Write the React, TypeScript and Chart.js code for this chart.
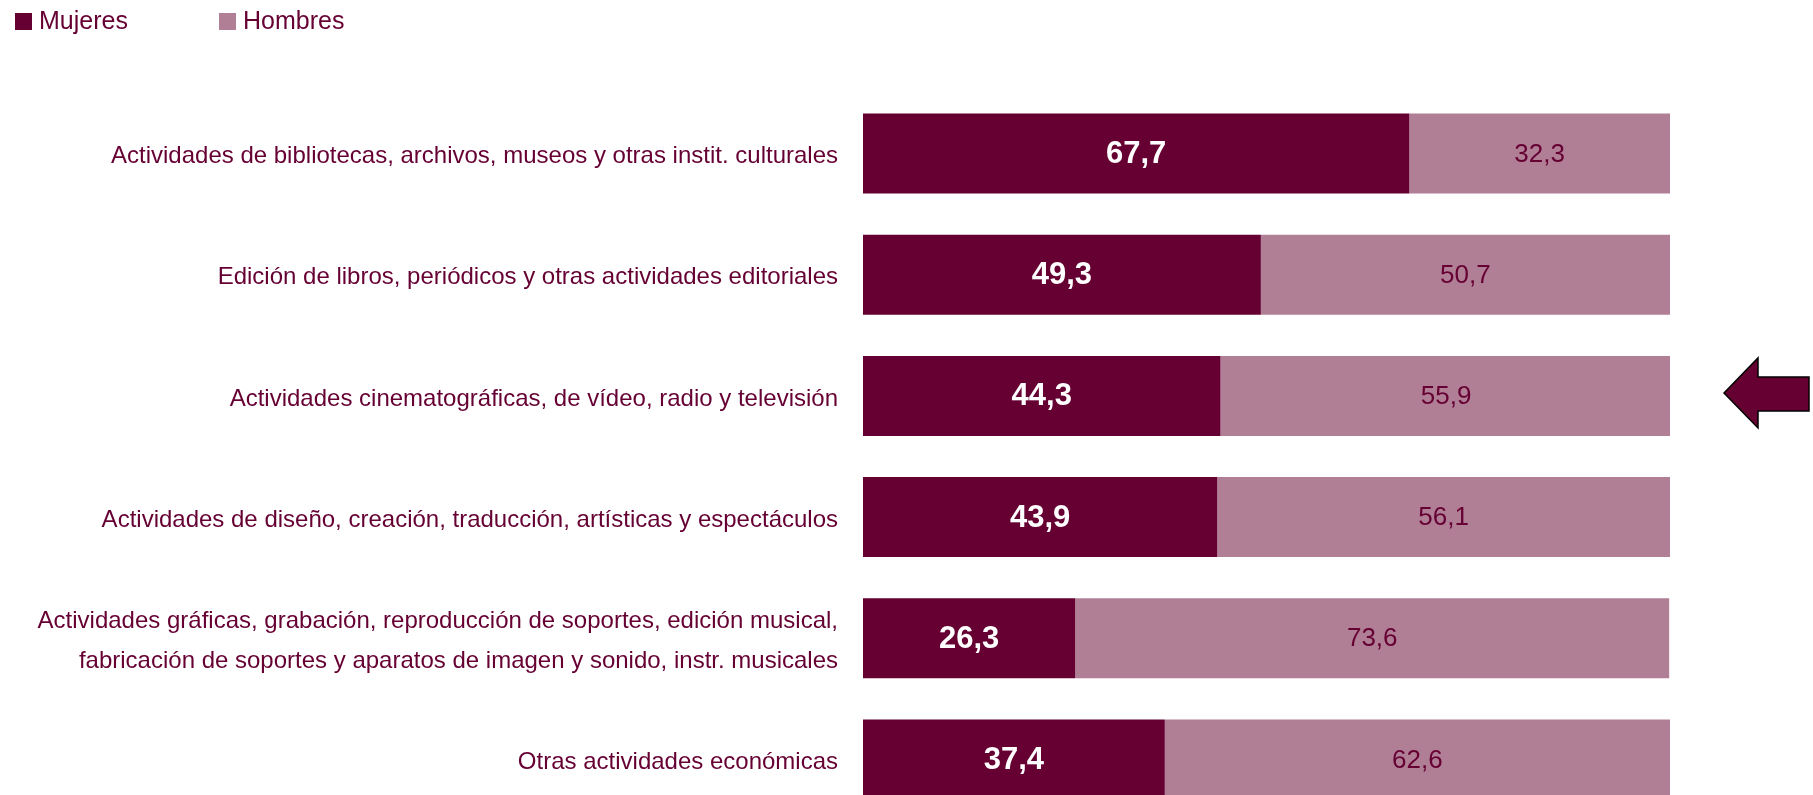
import React, { useEffect, useRef } from "react";
import { Chart, registerables } from "chart.js";

Chart.register(...registerables);

const categories: (string | string[])[] = [
  "Actividades de bibliotecas, archivos, museos y otras instit. culturales",
  "Edición de libros, periódicos y otras actividades editoriales",
  "Actividades cinematográficas, de vídeo, radio y televisión",
  "Actividades de diseño, creación, traducción, artísticas y espectáculos",
  [
    "Actividades gráficas, grabación, reproducción de soportes, edición musical,",
    "fabricación de soportes y aparatos de imagen y sonido, instr. musicales",
  ],
  "Otras actividades económicas",
];
const mujeres = [67.7, 49.3, 44.3, 43.9, 26.3, 37.4];
const hombres = [32.3, 50.7, 55.9, 56.1, 73.6, 62.6];
const seriesNames = ["Mujeres", "Hombres"];
const highlightedIndex = 2;

const DARK = "#660033";
const LIGHT = "#B07F96";
const FONT = "'Liberation Sans', Arial, sans-serif";

const fmt = (v: number) => v.toFixed(1).replace(".", ",");

const labelsPlugin = {
  id: "barLabels",
  afterDatasetsDraw(chart: any) {
    const ctx = chart.ctx;
    ctx.save();
    ctx.textAlign = "center";
    ctx.textBaseline = "middle";
    chart.data.datasets.forEach((ds: any, di: number) => {
      const meta = chart.getDatasetMeta(di);
      meta.data.forEach((bar: any, i: number) => {
        const cx = (bar.x + bar.base) / 2;
        if (di === 0) {
          ctx.fillStyle = "#ffffff";
          ctx.font = `bold 31px ${FONT}`;
        } else {
          ctx.fillStyle = DARK;
          ctx.font = `26px ${FONT}`;
        }
        ctx.fillText(fmt(ds.data[i]), cx, bar.y + 1);
      });
    });
    ctx.restore();
  },
};

const legendArrowPlugin = {
  id: "legendArrow",
  afterDraw(chart: any) {
    const ctx = chart.ctx;
    ctx.save();
    const items = [
      { x: 15, color: DARK, text: seriesNames[0] },
      { x: 219, color: LIGHT, text: seriesNames[1] },
    ];
    ctx.font = `25px ${FONT}`;
    ctx.textBaseline = "middle";
    ctx.textAlign = "left";
    items.forEach((it) => {
      ctx.fillStyle = it.color;
      ctx.fillRect(it.x, 13, 17, 17);
      ctx.fillStyle = DARK;
      ctx.fillText(it.text, it.x + 24, 22);
    });
    const yScale = chart.scales.y;
    const cy = yScale.getPixelForValue(highlightedIndex) - 3;
    ctx.beginPath();
    ctx.moveTo(1724, cy);
    ctx.lineTo(1758, cy - 35);
    ctx.lineTo(1758, cy - 16);
    ctx.lineTo(1809, cy - 16);
    ctx.lineTo(1809, cy + 18);
    ctx.lineTo(1758, cy + 18);
    ctx.lineTo(1758, cy + 35);
    ctx.closePath();
    ctx.fillStyle = DARK;
    ctx.fill();
    ctx.lineWidth = 1.5;
    ctx.strokeStyle = "#000000";
    ctx.stroke();
    ctx.restore();
  },
};

export default function App() {
  const ref = useRef<HTMLCanvasElement>(null);
  useEffect(() => {
    if (!ref.current) return;
    const chart = new Chart(ref.current, {
      type: "bar",
      data: {
        labels: categories,
        datasets: [
          {
            label: seriesNames[0],
            data: mujeres,
            backgroundColor: DARK,
            barPercentage: 0.66,
            categoryPercentage: 1,
          },
          {
            label: seriesNames[1],
            data: hombres,
            backgroundColor: LIGHT,
            barPercentage: 0.66,
            categoryPercentage: 1,
          },
        ],
      },
      options: {
        indexAxis: "y",
        responsive: false,
        maintainAspectRatio: false,
        animation: false,
        devicePixelRatio: 1,
        layout: { padding: { top: 93, right: 143, bottom: 3, left: 0 } },
        plugins: {
          legend: { display: false },
          tooltip: { enabled: false },
        },
        scales: {
          x: {
            stacked: true,
            min: 0,
            max: 100,
            display: false,
          },
          y: {
            stacked: true,
            grid: { display: false, drawTicks: false },
            border: { display: false },
            afterFit: (s: any) => {
              s.width = 863;
              s.paddingTop = 0;
              s.paddingBottom = 0;
            },
            ticks: {
              padding: 25,
              labelOffset: 3,
              color: DARK,
              font: { family: FONT, size: 24, lineHeight: 1.69 },
            },
          },
        },
      },
      plugins: [labelsPlugin, legendArrowPlugin],
    } as any);
    return () => chart.destroy();
  }, []);
  return (
    <div
      style={{
        position: "fixed",
        left: 0,
        top: 0,
        width: 1813,
        height: 795,
        overflow: "hidden",
        background: "#fff",
      }}
    >
      <canvas ref={ref} width={1813} height={823} style={{ display: "block" }} />
    </div>
  );
}
